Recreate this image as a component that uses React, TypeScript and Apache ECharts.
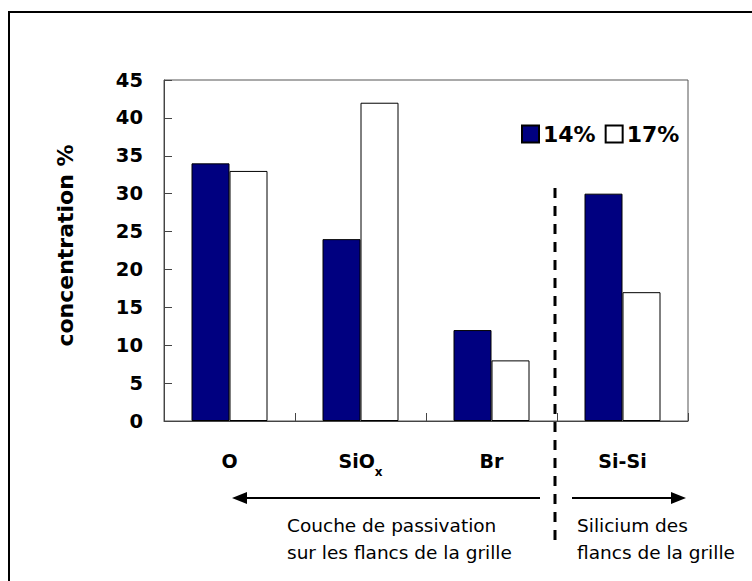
import React, { useEffect, useRef } from "react";
import * as echarts from "echarts";

const categories = ["O", "SiO{sub|x}", "Br", "Si-Si"];
const series14 = [34, 24, 12, 30];
const series17 = [33, 42, 8, 17];
const seriesNames = ["14%", "17%"];
const yTicks = { min: 0, max: 45, interval: 5 };
const leftNote = "Couche de passivation\nsur les flancs de la grille";
const rightNote = "Silicium des\nflancs de la grille";

export default function App() {
  const ref = useRef<HTMLDivElement>(null);
  useEffect(() => {
    if (!ref.current) return;
    const chart = echarts.init(ref.current, null, { renderer: "svg" });
    const font = "DejaVu Sans";
    chart.setOption({
      animation: false,
      backgroundColor: "#fff",
      textStyle: { fontFamily: font },
      grid: { left: 164, top: 80, right: 64, bottom: 160, show: true, borderColor: "#555", borderWidth: 1, containLabel: false },
      legend: {
        left: 516,
        top: 118,
        itemWidth: 17,
        itemHeight: 17,
        itemGap: 9,
        icon: "rect",
        textStyle: { fontFamily: font, fontWeight: "bold", fontSize: 22, color: "#000", padding: [0, 0, 0, -1] },
        data: seriesNames,
      },
      xAxis: {
        type: "category",
        data: categories,
        axisLine: { show: true, lineStyle: { color: "#444", width: 1 } },
        axisTick: { show: true, inside: true, length: 8, lineStyle: { color: "#444" } },
        axisLabel: {
          interval: 0,
          margin: 23,
          color: "#000",
          fontFamily: font,
          fontWeight: "bold",
          fontSize: 19,
          lineHeight: 34,
          rich: {
            sub: { fontSize: 12, lineHeight: 12, fontWeight: "bold", fontFamily: font, color: "#000", verticalAlign: "bottom", padding: [22, 0, 0, 0] },
          },
        },
      },
      yAxis: {
        type: "value",
        min: yTicks.min,
        max: yTicks.max,
        interval: yTicks.interval,
        splitLine: { show: false },
        axisLine: { show: true, lineStyle: { color: "#444", width: 1 } },
        axisTick: { show: true, inside: true, length: 8, lineStyle: { color: "#444" } },
        axisLabel: { margin: 21, color: "#000", fontFamily: font, fontWeight: "bold", fontSize: 19.5 },
        name: "concentration %",
        nameLocation: "middle",
        nameGap: 88,
        nameTextStyle: { color: "#000", fontFamily: font, fontWeight: "bold", fontSize: 22, padding: [0, 0, 0, 10] },
      },
      series: [
        {
          name: seriesNames[0],
          type: "bar",
          data: series14,
          barWidth: 38,
          barGap: "0%",
          itemStyle: { color: "#000080", borderColor: "#000", borderWidth: 1 },
        },
        {
          name: seriesNames[1],
          type: "bar",
          data: series17,
          barWidth: 38,
          barGap: "0%",
          itemStyle: { color: "#fff", borderColor: "#000", borderWidth: 1 },
        },
      ],
      graphic: [
        { type: "rect", shape: { x: 9, y: 12, width: 800, height: 700 }, style: { fill: "none", stroke: "#000", lineWidth: 2 }, silent: true },
        { type: "line", shape: { x1: 555, y1: 188, x2: 555, y2: 543 }, style: { stroke: "#000", lineWidth: 3, lineDash: [10, 8] } },
        { type: "line", shape: { x1: 540, y1: 498, x2: 245, y2: 498 }, style: { stroke: "#000", lineWidth: 2 } },
        { type: "polygon", shape: { points: [[232, 498], [247, 492], [247, 504]] }, style: { fill: "#000" } },
        { type: "line", shape: { x1: 572, y1: 498, x2: 673, y2: 498 }, style: { stroke: "#000", lineWidth: 2 } },
        { type: "polygon", shape: { points: [[686, 498], [671, 492], [671, 504]] }, style: { fill: "#000" } },
        { type: "text", x: 287, y: 512, style: { text: leftNote, fontFamily: font, fontSize: 18.5, lineHeight: 27, fill: "#000", textAlign: "left", textVerticalAlign: "top" } },
        { type: "text", x: 577, y: 512, style: { text: rightNote, fontFamily: font, fontSize: 18.5, lineHeight: 27, fill: "#000", textAlign: "left", textVerticalAlign: "top" } },
      ],
    });
    return () => chart.dispose();
  }, []);
  return <div ref={ref} style={{ position: "fixed", left: 0, top: 0, width: 752, height: 581 }} />;
}
